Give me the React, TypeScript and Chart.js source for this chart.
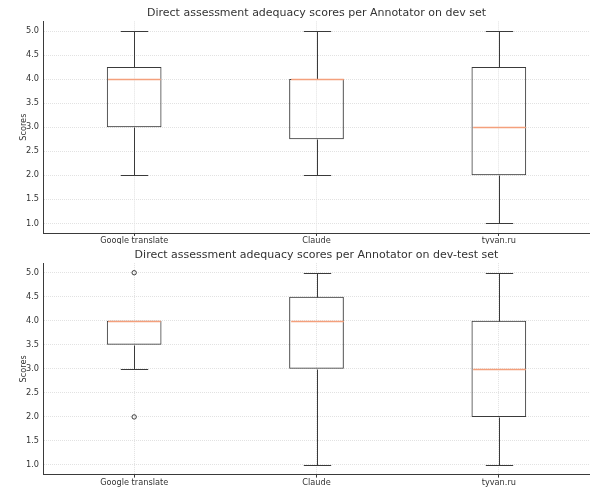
import React, { useEffect, useRef } from 'react';
import { Chart, registerables } from 'chart.js';

Chart.register(...registerables);

const categories = ['Google translate', 'Claude', 'tyvan.ru'];
const yTicks = [1.0, 1.5, 2.0, 2.5, 3.0, 3.5, 4.0, 4.5, 5.0];
const yMin = 0.8;
const yMax = 5.2;

const devTitle = 'Direct assessment adequacy scores per Annotator on dev set';
const devMin = [2, 2, 1];
const devQ1 = [3, 2.75, 2];
const devMedian = [4, 4, 3];
const devQ3 = [4.25, 4, 4.25];
const devMax = [5, 5, 5];
const devOutliers: number[][] = [[], [], []];

const testTitle = 'Direct assessment adequacy scores per Annotator on dev-test set';
const testMin = [3, 1, 1];
const testQ1 = [3.5, 3, 2];
const testMedian = [4, 4, 3];
const testQ3 = [4, 4.5, 4];
const testMax = [4, 5, 5];
const testOutliers: number[][] = [[5, 2], [], []];

const FONT = "'DejaVu Sans', sans-serif";
const LINE = '#3a3a3a';
const MEDIAN = '#f4a07c';
const GRID = '#e2e2e2';
const TEXT = '#333333';

type Stats = { min: number[]; q1: number[]; median: number[]; q3: number[]; max: number[] };

function makeWhiskerPlugin(stats: Stats) {
  return {
    id: 'whiskers',
    afterDatasetsDraw(chart: any) {
      const { ctx } = chart;
      const xs = chart.scales.x;
      const ys = chart.scales.y;
      const meta = chart.getDatasetMeta(0);
      ctx.save();
      ctx.setLineDash([]);
      categories.forEach((_, i) => {
        const bar = meta.data[i];
        const half = bar ? bar.width / 2 : 27;
        const cx = Math.round(xs.getPixelForValue(i)) + 0.5;
        const py = (v: number) => Math.round(ys.getPixelForValue(v)) + 0.5;
        const capHalf = half / 2;
        ctx.lineWidth = 1;
        ctx.strokeStyle = LINE;
        ctx.beginPath();
        ctx.moveTo(cx, py(stats.q3[i]));
        ctx.lineTo(cx, py(stats.max[i]));
        ctx.moveTo(cx - capHalf, py(stats.max[i]));
        ctx.lineTo(cx + capHalf, py(stats.max[i]));
        ctx.moveTo(cx, py(stats.q1[i]));
        ctx.lineTo(cx, py(stats.min[i]));
        ctx.moveTo(cx - capHalf, py(stats.min[i]));
        ctx.lineTo(cx + capHalf, py(stats.min[i]));
        ctx.stroke();
        ctx.strokeStyle = MEDIAN;
        ctx.lineWidth = 1.3;
        ctx.beginPath();
        ctx.moveTo(cx - half + 1, py(stats.median[i]));
        ctx.lineTo(cx + half - 1, py(stats.median[i]));
        ctx.stroke();
      });
      ctx.restore();
    },
  };
}

function BoxChart(props: {
  title: string;
  stats: Stats;
  outliers: number[][];
  titleTop: number;
  titleBottom: number;
  xHeight: number;
}) {
  const ref = useRef<HTMLCanvasElement | null>(null);
  useEffect(() => {
    if (!ref.current) return;
    const { stats, outliers } = props;
    const outlierPoints: { x: string; y: number }[] = [];
    outliers.forEach((arr, i) => arr.forEach((v) => outlierPoints.push({ x: categories[i], y: v })));
    const chart = new Chart(ref.current, {
      type: 'bar',
      data: {
        labels: categories,
        datasets: [
          {
            type: 'bar',
            data: categories.map((_, i) => [stats.q1[i], stats.q3[i]]) as any,
            backgroundColor: 'rgba(0,0,0,0)',
            borderColor: LINE,
            borderWidth: 1,
            borderSkipped: false,
            barPercentage: 0.3,
            categoryPercentage: 1,
          },
          {
            type: 'scatter',
            data: outlierPoints as any,
            pointStyle: 'circle',
            pointRadius: 2.2,
            pointBorderWidth: 1,
            borderColor: LINE,
            backgroundColor: 'rgba(0,0,0,0)',
          } as any,
        ],
      },
      options: {
        responsive: false,
        animation: false,
        devicePixelRatio: 1,
        layout: { autoPadding: false, padding: { left: 19, right: 0, top: 0, bottom: 0 } } as any,
        plugins: {
          legend: { display: false },
          tooltip: { enabled: false },
          title: {
            display: true,
            fullSize: false,
            text: props.title,
            color: TEXT,
            font: { family: FONT, size: 11, weight: 'normal' as any },
            padding: { top: props.titleTop, bottom: props.titleBottom },
          },
        },
        scales: {
          x: {
            type: 'category',
            offset: true,
            grid: {
              display: true,
              offset: false,
              color: GRID,
              lineWidth: 1,
              drawTicks: true,
              tickLength: 3,
              tickColor: LINE,
              tickBorderDash: [],
            } as any,
            border: { display: true, color: LINE, width: 1, dash: [1, 1] },
            ticks: {
              color: TEXT,
              font: { family: FONT, size: 8.2 },
              padding: 0,
              maxRotation: 0,
            },
            afterFit: (scale: any) => {
              scale.height = props.xHeight;
            },
          },
          y: {
            type: 'linear',
            min: yMin,
            max: yMax,
            grid: {
              color: GRID,
              lineWidth: 1,
              drawTicks: false,
            } as any,
            border: { display: true, color: LINE, width: 1, dash: [1, 1] },
            ticks: {
              color: TEXT,
              font: { family: FONT, size: 8.2 },
              padding: 4,
              callback: (v: any) => Number(v).toFixed(1),
            },
            afterBuildTicks: (scale: any) => {
              scale.ticks = yTicks.map((v) => ({ value: v }));
            },
            title: {
              display: true,
              text: 'Scores',
              color: TEXT,
              font: { family: FONT, size: 8.2 },
              padding: { top: 0, bottom: 2 },
            },
            afterFit: (scale: any) => {
              scale.width = 24;
            },
          },
        },
      },
      plugins: [makeWhiskerPlugin(stats)],
    });
    return () => chart.destroy();
  }, []);
  return <canvas ref={ref} width={590} height={244} style={{ display: 'block' }} />;
}

export default function App() {
  return (
    <div style={{ position: 'absolute', left: 0, top: 0, width: 590, height: 488, background: '#fff' }}>
      <BoxChart
        title={devTitle}
        stats={{ min: devMin, q1: devQ1, median: devMedian, q3: devQ3, max: devMax }}
        outliers={devOutliers}
        titleTop={6.6}
        titleBottom={1.6}
        xHeight={11}
      />
      <BoxChart
        title={testTitle}
        stats={{ min: testMin, q1: testQ1, median: testMedian, q3: testQ3, max: testMax }}
        outliers={testOutliers}
        titleTop={4.2}
        titleBottom={1.7}
        xHeight={13.4}
      />
    </div>
  );
}
